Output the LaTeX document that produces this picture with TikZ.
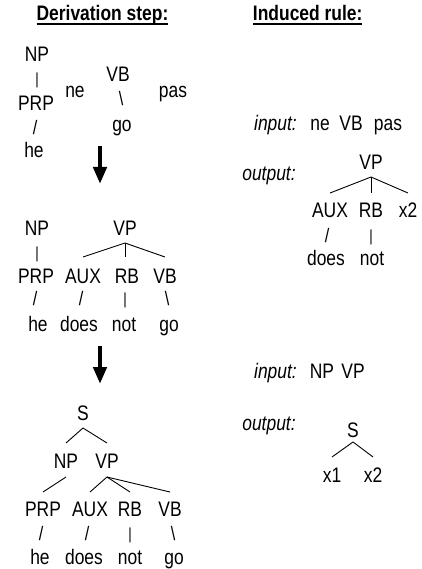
\documentclass[tikz,border=0pt]{standalone}
\usepackage{fontspec}
\setmainfont{Liberation Sans}[FakeStretch=0.83]
\usetikzlibrary{arrows.meta}
\begin{document}
\begin{tikzpicture}[x=1pt,y=-1pt,
  every node/.style={font=\fontsize{21}{25}\selectfont, inner sep=0pt, outer sep=0pt, anchor=base, text height=14.5pt, text depth=0pt},
  sl/.style={font=\fontsize{19.5}{22}\selectfont},
  barc/.style={font=\fontsize{16}{18}\selectfont},
  lbl/.style={font=\fontsize{21}{25}\selectfont\itshape},
  head/.style={font=\fontsize{21}{25}\selectfont\bfseries},
  br/.style={line width=0.9pt, black},
  uline/.style={line width=1.6pt, black},
  down/.style={line width=4.5pt, -{Triangle[width=13pt,length=17pt]}}
]
\useasboundingbox (0,0) rectangle (422,569);

% headings
\node[head] (h1) at (102.5,21) {Derivation step:};
\draw[uline] ([yshift=-3pt]h1.base west) -- ([yshift=-3pt]h1.base east);
\node[head] (h2) at (307.7,21) {Induced rule:};
\draw[uline] ([yshift=-3pt]h2.base west) -- ([yshift=-3pt]h2.base east);

% tree 1
\node (t1np) at (37,62) {NP};
\node[barc] (t1b1) at (37,85) {|};
\node (t1prp) at (36,111) {PRP};
\node[sl] (t1s1) at (35,135) {/};
\node (t1he) at (34,158) {he};
\node (t1ne) at (75,98) {ne};
\node (t1vb) at (118,81.5) {VB};
\node[sl] (t1s2) at (121,106) {\textbackslash};
\node (t1go) at (122,132) {go};
\node (t1pas) at (173,98) {pas};

\coordinate (a1s) at (100,146);
\coordinate (a1e) at (100,184);
\draw[down] (a1s) -- (a1e);

% tree 2
\node (t2np) at (37,235) {NP};
\node (t2vp) at (125,235) {VP};
\node[barc] (t2b1) at (37,258) {|};
\node (t2prp) at (36,283) {PRP};
\node (t2aux) at (83,283) {AUX};
\node (t2rb) at (127,283) {RB};
\node (t2vb) at (165,283) {VB};
\node[sl] (t2s1) at (35,305) {/};
\node[sl] (t2s2) at (81,305) {/};
\node[barc] (t2s3) at (125,304) {|};
\node[sl] (t2s4) at (167,305) {\textbackslash};
\node (t2he) at (38,331) {he};
\node (t2does) at (79,331) {does};
\node (t2not) at (124,331) {not};
\node (t2go) at (169,331) {go};
\draw[br] ([yshift=-8pt]t2vp.base) -- ([yshift=11.5pt]t2aux.north);
\draw[br] ([yshift=-8pt]t2vp.base) -- ([yshift=11.5pt]t2rb.north -| t2vp.base);
\draw[br] ([yshift=-8pt]t2vp.base) -- ([yshift=11.5pt]t2vb.north);

\coordinate (a2s) at (100,346);
\coordinate (a2e) at (100,384);
\draw[down] (a2s) -- (a2e);

% tree 3
\node (t3s) at (83,420) {S};
\node (t3np) at (66,468) {NP};
\node (t3vp) at (107,468) {VP};
\node (t3prp) at (43,516) {PRP};
\node (t3aux) at (90,516) {AUX};
\node (t3rb) at (130,516) {RB};
\node (t3vb) at (170,516) {VB};
\node[sl] (t3s1) at (41,540) {/};
\node[sl] (t3s2) at (87,540) {/};
\node[barc] (t3s3) at (130,539) {|};
\node[sl] (t3s4) at (173,540) {\textbackslash};
\node (t3he) at (40,564) {he};
\node (t3does) at (84,564) {does};
\node (t3not) at (130,564) {not};
\node (t3go) at (174,564) {go};
\draw[br] ([yshift=-8pt]t3s.base) -- ([yshift=10.5pt]t3np.north);
\draw[br] ([yshift=-8pt]t3s.base) -- ([yshift=10.5pt]t3vp.north);
\draw[br] ([yshift=-9pt]t3np.base) -- ([yshift=9.5pt]t3prp.north);
\draw[br] ([yshift=-9pt]t3vp.base) -- ([yshift=9.5pt]t3aux.north);
\draw[br] ([yshift=-9pt]t3vp.base) -- ([yshift=9.5pt]t3rb.north);
\draw[br] ([yshift=-9pt]t3vp.base) -- ([yshift=9.5pt]t3vb.north);

% rule 1
\node[lbl] (r1in) at (275.5,131) {input:};
\node (r1ne) at (320,131) {ne};
\node (r1vb) at (351,131) {VB};
\node (r1pas) at (388,131) {pas};
\node[lbl] (r1out) at (269,181) {output:};
\node (r1vp) at (371,170) {VP};
\node (r1aux) at (330,217) {AUX};
\node (r1rb) at (371,217) {RB};
\node (r1x2) at (408,217) {x2};
\node[sl] (r1s1) at (327,242) {/};
\node[barc] (r1s2) at (371,241) {|};
\node (r1does) at (326,265) {does};
\node (r1not) at (372,265) {not};
\draw[br] ([yshift=-7pt]r1vp.base) -- ([yshift=9.5pt]r1aux.north);
\draw[br] ([yshift=-7pt]r1vp.base) -- ([yshift=9.5pt]r1rb.north);
\draw[br] ([yshift=-7pt]r1vp.base) -- ([yshift=9.5pt]r1x2.north);

% rule 2
\node[lbl] (r2in) at (275.5,378) {input:};
\node (r2np) at (322,378) {NP};
\node (r2vp) at (353,378) {VP};
\node[lbl] (r2out) at (269,430) {output:};
\node (r2s) at (353,437) {S};
\node (r2x1) at (332,482) {x1};
\node (r2x2) at (373,482) {x2};
\draw[br] ([yshift=-5pt]r2s.base) -- ([yshift=10.5pt]r2x1.north);
\draw[br] ([yshift=-5pt]r2s.base) -- ([yshift=10.5pt]r2x2.north);
\end{tikzpicture}
\end{document}
